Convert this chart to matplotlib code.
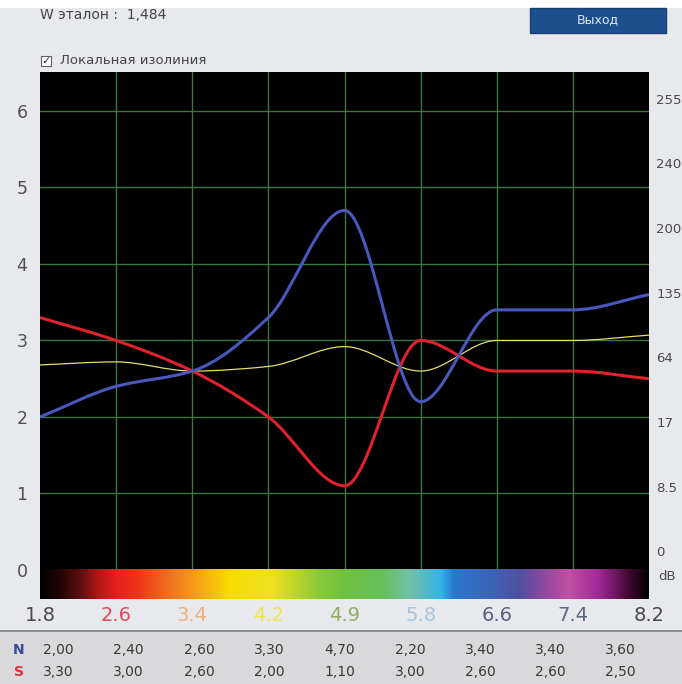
import matplotlib
matplotlib.use('Agg')
import matplotlib.pyplot as plt
import numpy as np
from matplotlib.path import Path
from matplotlib.patches import PathPatch, Rectangle
from matplotlib.colors import LinearSegmentedColormap

# values from the table under the chart
n_vals = [2.00, 2.40, 2.60, 3.30, 4.70, 2.20, 3.40, 3.40, 3.60]
s_vals = [3.30, 3.00, 2.60, 2.00, 1.10, 3.00, 2.60, 2.60, 2.50]
# thin yellow line
mid_vals = [2.68, 2.72, 2.60, 2.66, 2.92, 2.60, 3.00, 3.00, 3.07]

x_labels = ['1.8', '2.6', '3.4', '4.2', '4.9', '5.8', '6.6', '7.4', '8.2']
x_label_colors = ['#4a4a4a', '#e04a5a', '#f0b07c', '#f0e44a', '#8fae62',
                  '#a6c4dc', '#56607e', '#5e6680', '#4a4a4a']
right_labels = ['255', '240', '200', '135', '64', '17', '8.5', '0']
table_n = ['2,00', '2,40', '2,60', '3,30', '4,70', '2,20', '3,40', '3,40', '3,60']
table_s = ['3,30', '3,00', '2,60', '2,00', '1,10', '3,00', '2,60', '2,60', '2,50']

# colour scale under the plot
cbar_stops = [0.0, 0.03, 0.066, 0.1, 0.125, 0.16, 0.21, 0.25, 0.275, 0.31,
              0.38, 0.41, 0.46, 0.5, 0.56, 0.61, 0.66, 0.68, 0.74, 0.79,
              0.83, 0.87, 0.92, 0.97, 1.0]
cbar_colors = ['#000000', '#200404', '#601010', '#c01818', '#e82020', '#f03418',
               '#f07020', '#f89a18', '#f8b410', '#f8dc00', '#f0e020', '#c8d828',
               '#88c838', '#70c040', '#66c058', '#70c0a8', '#30b4e8', '#2878d0',
               '#3c64b8', '#5050a0', '#9048a0', '#c050a0', '#a02898', '#400830',
               '#000000']

W, H = 682, 684
fig = plt.figure(figsize=(W / 100, H / 100), dpi=100)
fig.patch.set_facecolor('#e7e9ed')

def fx(px):
    return px / W

def fy(py):
    return 1 - py / H

# white strip at the top, table background at the bottom
fig.patches.append(Rectangle((0, fy(8)), 1, 8 / H, transform=fig.transFigure,
                             facecolor='white', edgecolor='none', zorder=0))
fig.patches.append(Rectangle((0, 0), 1, fy(631), transform=fig.transFigure,
                             facecolor='#d9d9db', edgecolor='none', zorder=0))
fig.patches.append(Rectangle((0, fy(632)), 1, 2 / H, transform=fig.transFigure,
                             facecolor='#8c8e92', edgecolor='none', zorder=1))

# header texts and button
fig.text(fx(40), fy(15), 'W эталон :  1,484', fontsize=10, color='#454545',
         ha='left', va='center')
fig.patches.append(Rectangle((fx(530), fy(33)), 136 / W, 25 / H, transform=fig.transFigure,
                             facecolor='#1d4f8f', edgecolor='#16406f', zorder=1))
fig.text(fx(598), fy(20), 'Выход', fontsize=9, color='#dfe6f5', ha='center', va='center')
fig.patches.append(Rectangle((fx(41), fy(66)), 10 / W, 10 / H, transform=fig.transFigure,
                             facecolor='white', edgecolor='#606060', lw=0.8, zorder=1))
fig.text(fx(46), fy(61), '✓', fontsize=8, color='#303030', ha='center', va='center',
         fontweight='bold')
fig.text(fx(60), fy(60), 'Локальная изолиния', fontsize=9.5, color='#454545',
         ha='left', va='center')

# main plot area
left, right, top, bottom = 40, 649, 72, 599
ax = fig.add_axes([fx(left), fy(bottom), (right - left) / W, (bottom - top) / H])
ax.set_facecolor('black')
ax.set_xlim(0, 8)
ax.set_ylim(-0.38, 6.51)
for sp in ax.spines.values():
    sp.set_visible(False)

for xv in range(1, 8):
    ax.axvline(xv, color='#3c7442', lw=1, zorder=1)
for yv in range(1, 7):
    ax.axhline(yv, color='#3c7442', lw=1, zorder=1)

cmap = LinearSegmentedColormap.from_list('scale', list(zip(cbar_stops, cbar_colors)))
ax.imshow(np.linspace(0, 1, 512)[None, :], cmap=cmap, aspect='auto',
          extent=[0, 8, -0.38, 0.0], zorder=2, interpolation='bilinear')


def smooth_path(ys):
    xs = np.arange(len(ys), dtype=float)
    ys = np.asarray(ys, dtype=float)
    d = np.diff(ys) / np.diff(xs)
    m = np.zeros(len(ys))
    m[0], m[-1] = d[0], d[-1]
    for k in range(1, len(ys) - 1):
        if d[k - 1] * d[k] > 0:
            m[k] = 2 / (1 / d[k - 1] + 1 / d[k])
    verts = [(xs[0], ys[0])]
    codes = [Path.MOVETO]
    for i in range(len(ys) - 1):
        h = xs[i + 1] - xs[i]
        verts += [(xs[i] + h / 3, ys[i] + m[i] * h / 3),
                  (xs[i + 1] - h / 3, ys[i + 1] - m[i + 1] * h / 3),
                  (xs[i + 1], ys[i + 1])]
        codes += [Path.CURVE4] * 3
    return Path(verts, codes)


ax.add_patch(PathPatch(smooth_path(mid_vals), fill=False, edgecolor='#e2de6a', lw=0.9, zorder=3))
ax.add_patch(PathPatch(smooth_path(s_vals), fill=False, edgecolor='#e0222c', lw=2.2, zorder=4))
ax.add_patch(PathPatch(smooth_path(n_vals), fill=False, edgecolor='#4858bc', lw=2.2, zorder=5))

# left axis
ax.set_yticks(range(0, 7))
ax.set_yticklabels([str(v) for v in range(0, 7)], fontsize=12.5, color='#505050')
ax.tick_params(axis='y', length=0, pad=9)

# bottom axis with coloured labels
ax.set_xticks(range(len(x_labels)))
ax.set_xticklabels(x_labels, fontsize=14)
for lab, c in zip(ax.get_xticklabels(), x_label_colors):
    lab.set_color(c)
ax.tick_params(axis='x', length=0, pad=5)

# right-hand scale labels
for i, lab in enumerate(right_labels):
    ax.text(1.012, 6.14 - i * 0.845, lab, transform=ax.get_yaxis_transform(),
            fontsize=9.5, color='#4a4a4a', ha='left', va='center')
ax.text(1.03, -0.09, 'dB', transform=ax.get_yaxis_transform(), fontsize=9.5,
        color='#4a4a4a', ha='center', va='center')

# table of values
fig.text(fx(19), fy(650), 'N', fontsize=10, color='#3a4a9a', ha='center', va='center',
         fontweight='bold')
fig.text(fx(19), fy(672), 'S', fontsize=10, color='#e03038', ha='center', va='center',
         fontweight='bold')
for i, (a, b) in enumerate(zip(table_n, table_s)):
    fig.text(fx(43 + i * 70.3), fy(650), a, fontsize=10, color='#383838', ha='left', va='center')
    fig.text(fx(43 + i * 70.3), fy(672), b, fontsize=10, color='#383838', ha='left', va='center')

fig.savefig('out.png', dpi=100)
